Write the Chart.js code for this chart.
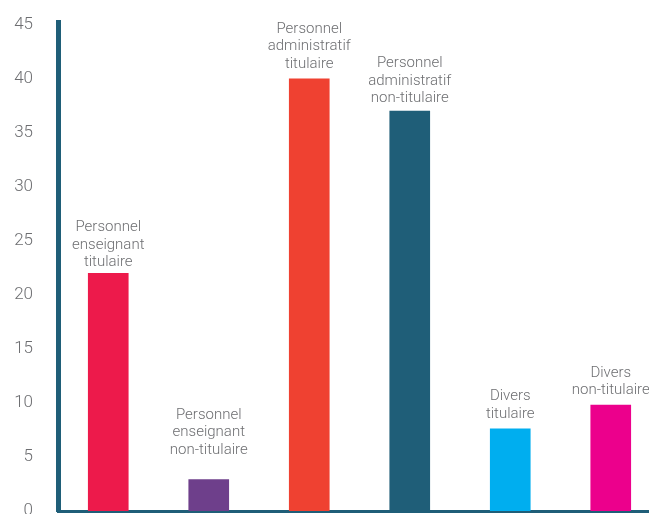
<!DOCTYPE html>
<html>
<head>
<meta charset="utf-8">
<script src="https://cdn.jsdelivr.net/npm/chart.js@4.4.0/dist/chart.umd.min.js"></script>
<style>
  html, body { margin: 0; padding: 0; overflow: hidden; background: #fff; }
  canvas { display: block; }
</style>
</head>
<body>
<canvas id="staffChart" width="661" height="530"></canvas>
<script>
// Categories (one line per array entry)
const categories = [
  ['Personnel', 'enseignant', 'titulaire'],
  ['Personnel', 'enseignant', 'non-titulaire'],
  ['Personnel', 'administratif', 'titulaire'],
  ['Personnel', 'administratif', 'non-titulaire'],
  ['Divers', 'titulaire'],
  ['Divers', 'non-titulaire']
];
const values = [22, 2.9, 40, 37, 7.6, 9.8];
const yTicks = [0, 5, 10, 15, 20, 25, 30, 35, 40, 45];

const barColors = ['#ed1a4b', '#6e3f8b', '#ef4131', '#1f5e78', '#00aeef', '#ec008c'];
const axisColor = '#1f5e78';
const textColor = '#6d6e71';

// Text block above every bar; the second one sits a bit higher
const labelLift = [0, 19, 4, 2, 4, 4];

const barLabels = {
  id: 'barLabels',
  afterDatasetsDraw(chart) {
    const ctx = chart.ctx;
    const meta = chart.getDatasetMeta(0);
    ctx.save();
    ctx.font = '300 15px Roboto';
    ctx.fillStyle = textColor;
    ctx.textAlign = 'center';
    ctx.textBaseline = 'alphabetic';
    meta.data.forEach((bar, i) => {
      const lines = categories[i];
      const lineH = 17.5;
      let y = bar.y - 7 - labelLift[i];
      for (let k = lines.length - 1; k >= 0; k--) {
        ctx.fillText(lines[k], bar.x, y);
        y -= lineH;
      }
    });
    ctx.restore();
  }
};

new Chart(document.getElementById('staffChart'), {
  type: 'bar',
  data: {
    labels: categories.map(c => c.join(' ')),
    datasets: [{
      data: values,
      backgroundColor: barColors,
      borderWidth: 0,
      barThickness: 40
    }]
  },
  options: {
    responsive: false,
    animation: false,
    layout: { padding: { top: 22, bottom: 19, left: 0, right: 0 } },
    plugins: {
      legend: { display: false },
      tooltip: { enabled: false }
    },
    scales: {
      x: {
        grid: { display: false, drawTicks: false },
        ticks: { display: false },
        border: { color: axisColor, width: 3 },
        afterFit: scale => { scale.height = 0; }
      },
      y: {
        min: 0,
        max: 45.25,
        // hidden tick marks keep the labels away from the axis line
        grid: { display: false, drawTicks: true, tickLength: 25 },
        border: { color: axisColor, width: 5 },
        afterBuildTicks: axis => { axis.ticks = yTicks.map(v => ({ value: v })); },
        ticks: {
          padding: 0,
          color: textColor,
          font: { family: 'Roboto', size: 17, weight: '300' }
        },
        afterFit: scale => { scale.width = 58; }
      }
    }
  },
  plugins: [barLabels]
});
</script>
</body>
</html>
